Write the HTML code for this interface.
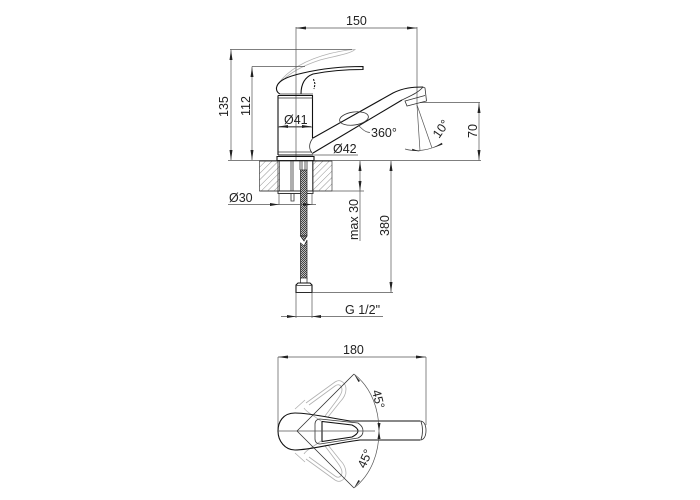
<!DOCTYPE html>
<html><head><meta charset="utf-8"><style>
html,body{margin:0;padding:0;background:#fff}
svg{display:block}
text{font-family:"Liberation Sans",sans-serif;font-size:12.5px;fill:#222}
.d{stroke:#555;stroke-width:.7;fill:none}
.o{stroke:#333;stroke-width:.8;fill:none}
.t{stroke:#111;stroke-width:1.1;fill:none}
.g{stroke:#b0b0b0;stroke-width:.8;fill:none}
.a{fill:#222;stroke:none}
</style></head><body>
<svg width="700" height="500" viewBox="0 0 700 500" xmlns="http://www.w3.org/2000/svg">
<defs>
<pattern id="h" width="4.500" height="4.500" patternUnits="userSpaceOnUse" patternTransform="rotate(45)"><line x1="0" y1="0" x2="0" y2="4.500" stroke="#777" stroke-width=".8"/></pattern>
<pattern id="b" width="2" height="2" patternUnits="userSpaceOnUse"><rect width="2" height="2" fill="#bbb"/><rect width="1" height="1" fill="#444"/><rect x="1" y="1" width="1" height="1" fill="#444"/></pattern>
</defs>

<!-- grey ghost handle, side -->
<path class="g" d="M278 84C288 70 305 60 330 53.500C341 51 350 49.500 355 49.500C350 54 335 56 320 60C305 65 295 70 285 78"/>
<!-- dims / extension lines -->
<path class="d" d="M296 27V160M296 28H417M417 27V106M230 49.500H352M231 49.500V160M252 66.500H305M252 66.500V160M228 160.500H481M420 102.500H480M479 102.500V160.500"/>
<path class="a" d="M296 28l10-1.500v3zM417 28l-10-1.500v3zM231 50l-1.500 10h3zM231 160l-1.500-10h3zM252 67l-1.500 10h3zM252 160l-1.500-10h3zM479 103l-1.500 10h3zM479 160l-1.500-10h3z"/>
<text x="346" y="25">150</text>
<text transform="translate(228,117) rotate(-90)">135</text>
<text transform="translate(250,116) rotate(-90)">112</text>
<text transform="translate(477,138) rotate(-90)">70</text>

<!-- handle -->
<path class="t" d="M280 94C276 92 276 88 277 86C279 81 285 77 303 73C320 69 340 66.500 363 66.500V69.500C345 69.500 328 71 313 74C305 77 301 84 301 94"/>
<path class="o" d="M280 94H313"/>
<path class="t" d="M313.500 79L315 84L314 89" stroke-dasharray="2 1.200"/>
<!-- body -->
<path class="t" d="M278 95.500H313"/>
<path class="t" d="M278 95.500V155M312.500 95.500V138"/>
<path class="o" d="M278 98H313M278 127H312M278 152H312"/>
<path class="o" d="M313 138C309 143 308 149 313 154"/>
<!-- spout -->
<path class="t" d="M313 138L393 93C403 88 412 87 423 87"/>
<path class="t" d="M313 153L402 100"/>
<path class="o" d="M423 87L425 88L426.500 101L407 106L405 101L425 95.500M402 100C410 96 418 93 423 87"/>
<!-- swivel ellipse + label -->
<ellipse cx="354" cy="118.500" rx="14.500" ry="6.500" class="o" transform="rotate(-8 354 118.500)" stroke-width=".7"/>
<path class="d" d="M358 125C363 130 366 132.500 370 132.500"/>
<text x="371" y="137">360°</text>
<!-- 10 deg -->
<path class="d" d="M417 105L420 151M417 105L432 148M405 149C415 152 430 151 442 143"/>
<path class="a" d="M420 151.500l-8-1 .3-1.800zM433 148l9-5 .5 1.500z"/>
<text transform="translate(439,139) rotate(-55)">10°</text>
<!-- Ø41 / Ø42 -->
<text x="284" y="124">Ø41</text>
<path class="d" d="M279 126.500H311"/>
<path class="a" d="M279 126.500l9-1.500v3zM311 126.500l-9-1.500v3z"/>
<text x="333" y="153">Ø42</text>
<path class="d" d="M313 155H358"/>
<!-- base ring -->
<path class="t" d="M278 155H313M277 156.500H314V160.500H277Z"/>

<!-- deck -->
<rect x="259.500" y="161" width="20" height="30" fill="url(#h)" stroke="#222" stroke-width=".6"/>
<rect x="312.500" y="161" width="19.500" height="30" fill="url(#h)" stroke="#222" stroke-width=".6"/>
<path class="o" d="M259.500 161H332M259.500 191H332"/>
<path class="o" d="M278 161V191M313 161V191M291 161V191M293 161V191M300 161V170M307 161V170M302 161V170M305 161V170"/>
<rect x="278" y="191" width="35" height="2.500" fill="#fff" stroke="#222" stroke-width=".9"/>
<path class="o" d="M291 193.500V201H294V193.500"/>
<!-- hose -->
<rect x="300.500" y="170" width="6.500" height="66" fill="url(#b)" stroke="#222" stroke-width=".7"/>
<path fill="url(#b)" stroke="#222" stroke-width=".7" d="M300.500 236L304 241L307 236Z"/>
<path fill="url(#b)" stroke="#222" stroke-width=".7" d="M300.500 243L304 246L307 240V279H300.500Z"/>
<rect x="300.500" y="278" width="6.500" height="5" fill="#fff" stroke="#222" stroke-width=".7"/>
<path class="t" d="M296 292.500V285L298 283H310L312 285V292.500Z"/>
<path class="o" d="M296 285.500H312M296 292.500H312"/>
<!-- lower dims -->
<path class="d" d="M279 193V205M312 193V205M228 204.500H316M318 191H364M360 161V241M391 161V292.500M312 292.500H393M296 293V318M312 293V318M281 316.500H383"/>
<path class="a" d="M279 204.500l-9-1.500v3zM312 204.500l-9-1.500v3zM360 161l-1.500 10h3zM360 191l-1.500-10h3zM391 161l-1.500 10h3zM391 292l-1.500-10h3zM296 316.500l-9-1.500v3zM312 316.500l9-1.500v3z"/>
<text x="229" y="202">Ø30</text>
<text transform="translate(358,240) rotate(-90)">max 30</text>
<text transform="translate(389,236) rotate(-90)">380</text>
<text x="345" y="314">G 1/2"</text>

<!-- TOP VIEW -->
<path class="d" d="M278 357H426M278 357V431M426 357V425"/>
<path class="a" d="M278 357l10-1.500v3zM426 357l-10-1.500v3z"/>
<text x="343" y="354">180</text>
<!-- ghosts -->
<g>
<path class="g" d="M306 403L335 382C341 378 346 384 346 389C346 394 344 398 340 402L328 417"/>
<path class="g" d="M309 405L335 386C339 383 342 386 342 390C342 393 340 396 337 400L325 416"/>
<path class="g" d="M304 408C306 412 313 415 321 421"/>
<path class="g" d="M295 409L305 400"/>
</g>
<g transform="translate(0,862) scale(1,-1)">
<path class="g" d="M306 403L335 382C341 378 346 384 346 389C346 394 344 398 340 402L328 417"/>
<path class="g" d="M309 405L335 386C339 383 342 386 342 390C342 393 340 396 337 400L325 416"/>
<path class="g" d="M304 408C306 412 313 415 321 421"/>
<path class="g" d="M295 409L305 400"/>
</g>
<!-- body -->
<path class="t" d="M295 413C283 413 278 422 278 431C278 441 285 450 295 450C310 450 330 444 360 440H420"/>
<path class="t" d="M295 413C310 413 330 418 350 421H420"/>
<path class="o" d="M420 421C424 421 426 425 426 430.500C426 436 424 440 420 440M421 421.500C423 427 423 434 421 439.500"/>
<path class="o" d="M315 424C315 421 317 419 320 419L358 423C362 426 363 428 363 431C363 434 362 436 358 438L320 444C317 444 315 442 315 439Z"/>
<path class="t" stroke-width="1.300" d="M322 421.500V441.500L352 437C356 435 358 433 358 431C358 429 356 427 352 425Z"/>
<!-- center + angle lines -->
<path class="d" d="M278 431H375"/>
<path class="o" d="M297 431L354 374M297 431L354 488"/>
<path class="d" d="M354 374C372 388 379 410 379 431C379 452 372 474 354 488"/>
<path class="a" d="M354 374l6 7-1.500 1zM379 431l-1.500-8h3zM379 431l-1.500 8h3zM354 488l6-7-1.500-1z"/>
<text transform="translate(372,391) rotate(76)">45°</text>
<text transform="translate(365,469) rotate(-66)">45°</text>
</svg>
</body></html>
